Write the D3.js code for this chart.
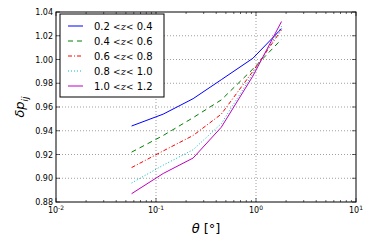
<!DOCTYPE html>
<html>
<head>
<meta charset="utf-8">
<script src="https://cdn.jsdelivr.net/npm/d3@7"></script>
<style>
  body { margin: 0; background: #fff; }
  svg { display: block; }
  text { font-family: 'DejaVu Sans', sans-serif; }
</style>
</head>
<body>
<div id="chart"></div>
<script>
const theta = [0.057, 0.118, 0.235, 0.45, 0.93, 1.8]
const bins = [['0.2', '0.4'], ['0.4', '0.6'], ['0.6', '0.8'], ['0.8', '1.0'], ['1.0', '1.2']]
const s1 = [0.944, 0.954, 0.967, 0.983, 1.001, 1.026]
const s2 = [0.922, 0.936, 0.951, 0.966, 0.992, 1.017]
const s3 = [0.909, 0.923, 0.936, 0.954, 0.990, 1.025]
const s4 = [0.896, 0.911, 0.924, 0.946, 0.988, 1.028]
const s5 = [0.887, 0.904, 0.917, 0.943, 0.986, 1.032]
const yTicks = [0.88, 0.90, 0.92, 0.94, 0.96, 0.98, 1.00, 1.02, 1.04]
const xTicks = [0.01, 0.1, 1, 10]

const series = [
  { values: s1, color: '#0000ff', dash: null },
  { values: s2, color: '#008000', dash: '5,4' },
  { values: s3, color: '#ff0000', dash: '4,2,1,2' },
  { values: s4, color: '#00bfbf', dash: '1,2' },
  { values: s5, color: '#bf00bf', dash: null }
]

const width = 374
const height = 249
const margin = { left: 56, right: 18, top: 12, bottom: 47 }

const svg = d3.select('#chart').append('svg')
  .attr('width', width)
  .attr('height', height)

const x = d3.scaleLog().domain([0.01, 10]).range([margin.left, width - margin.right])
const y = d3.scaleLinear().domain([0.88, 1.04]).range([height - margin.bottom, margin.top])

const x0 = x.range()[0]
const x1 = x.range()[1]
const y0 = y.range()[0]
const y1 = y.range()[1]

// grid
const grid = svg.append('g')
  .attr('stroke', '#888')
  .attr('stroke-width', 0.8)
  .attr('stroke-dasharray', '1,2')
grid.selectAll('.gx')
  .data(xTicks.slice(1, -1))
  .join('line')
  .attr('x1', d => x(d)).attr('x2', d => x(d))
  .attr('y1', y0).attr('y2', y1)
grid.selectAll('.gy')
  .data(yTicks.slice(1, -1))
  .join('line')
  .attr('x1', x0).attr('x2', x1)
  .attr('y1', d => y(d)).attr('y2', d => y(d))

// minor x ticks
const minor = []
for (let e = -2; e < 1; e++) {
  for (let m = 2; m < 10; m++) minor.push(m * Math.pow(10, e))
}
const ticks = svg.append('g').attr('stroke', '#000').attr('stroke-width', 0.6)
ticks.selectAll('.mb').data(minor).join('line')
  .attr('x1', d => x(d)).attr('x2', d => x(d)).attr('y1', y0).attr('y2', y0 - 2)
ticks.selectAll('.mt').data(minor).join('line')
  .attr('x1', d => x(d)).attr('x2', d => x(d)).attr('y1', y1).attr('y2', y1 + 2)
ticks.selectAll('.Mb').data(xTicks).join('line')
  .attr('x1', d => x(d)).attr('x2', d => x(d)).attr('y1', y0).attr('y2', y0 - 4)
ticks.selectAll('.Mt').data(xTicks).join('line')
  .attr('x1', d => x(d)).attr('x2', d => x(d)).attr('y1', y1).attr('y2', y1 + 4)
ticks.selectAll('.Ml').data(yTicks).join('line')
  .attr('x1', x0).attr('x2', x0 + 4).attr('y1', d => y(d)).attr('y2', d => y(d))
ticks.selectAll('.Mr').data(yTicks).join('line')
  .attr('x1', x1).attr('x2', x1 - 4).attr('y1', d => y(d)).attr('y2', d => y(d))

// lines
const line = d3.line()
  .x((d, i) => x(theta[i]))
  .y(d => y(d))

svg.append('g')
  .selectAll('path')
  .data(series)
  .join('path')
  .attr('d', d => line(d.values))
  .attr('fill', 'none')
  .attr('stroke', d => d.color)
  .attr('stroke-width', 1)
  .attr('stroke-dasharray', d => d.dash)

// frame
svg.append('rect')
  .attr('x', x0).attr('y', y1)
  .attr('width', x1 - x0).attr('height', y0 - y1)
  .attr('fill', 'none')
  .attr('stroke', '#000')
  .attr('stroke-width', 1)

// y tick labels
svg.append('g')
  .selectAll('text')
  .data(yTicks)
  .join('text')
  .attr('x', x0 - 3)
  .attr('y', d => y(d) + 3)
  .attr('text-anchor', 'end')
  .attr('font-size', 8)
  .text(d => d.toFixed(2))

// x tick labels
const xl = svg.append('g')
  .selectAll('text')
  .data(xTicks)
  .join('text')
  .attr('x', d => x(d))
  .attr('y', y0 + 11)
  .attr('text-anchor', 'middle')
  .attr('font-size', 8)
xl.append('tspan').text('10')
xl.append('tspan')
  .attr('dy', -3)
  .attr('font-size', 6)
  .text(d => Math.round(Math.log10(d)))

// axis labels
const xlab = svg.append('text')
  .attr('x', (x0 + x1) / 2)
  .attr('y', 233)
  .attr('text-anchor', 'middle')
  .attr('font-size', 13)
  .attr('font-family', 'DejaVu Serif, serif')
xlab.append('tspan').attr('font-style', 'italic').text('θ')
xlab.append('tspan').text(' [°]')

const ylab = svg.append('text')
  .attr('transform', `translate(24, ${(y0 + y1) / 2}) rotate(-90)`)
  .attr('text-anchor', 'middle')
  .attr('font-size', 13)
  .attr('font-family', 'DejaVu Serif, serif')
  .attr('font-style', 'italic')
ylab.append('tspan').text('δp')
ylab.append('tspan').attr('dy', 4).attr('font-size', 9).text('ij')

// legend
const leg = svg.append('g').attr('transform', 'translate(60, 14)')
leg.append('rect')
  .attr('width', 104).attr('height', 83)
  .attr('fill', '#fff')
  .attr('stroke', '#000')
  .attr('stroke-width', 1)
const items = leg.selectAll('g.item')
  .data(series)
  .join('g')
  .attr('transform', (d, i) => `translate(0, ${12 + i * 15})`)
items.append('line')
  .attr('x1', 8).attr('x2', 23)
  .attr('stroke', d => d.color)
  .attr('stroke-width', 1)
  .attr('stroke-dasharray', d => d.dash)
const lt = items.append('text')
  .attr('x', 34)
  .attr('y', 4)
  .attr('font-size', 10)
lt.append('tspan').text((d, i) => bins[i][0] + ' ')
lt.append('tspan').attr('font-family', 'DejaVu Serif, serif').attr('font-size', 9).text('<')
lt.append('tspan').attr('font-family', 'DejaVu Serif, serif').attr('font-style', 'italic').text('z')
lt.append('tspan').attr('font-family', 'DejaVu Serif, serif').attr('font-size', 9).text('<')
lt.append('tspan').text((d, i) => ' ' + bins[i][1])
</script>
</body>
</html>
